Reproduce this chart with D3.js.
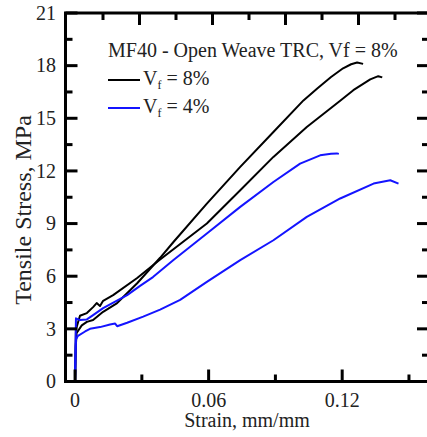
<!DOCTYPE html>
<html>
<head>
<meta charset="utf-8">
<script src="https://cdn.jsdelivr.net/npm/d3@7"></script>
<style>
  html, body { margin: 0; padding: 0; background: #fff; }
  svg { display: block; }
</style>
</head>
<body>
<svg id="chart" width="427" height="437" font-family="'Liberation Serif', 'Times New Roman', Times, serif"></svg>
<script>
// Tensile stress–strain curves, [strain (mm/mm), stress (MPa)]
const vf8a = [
  [0, 0], [0.0003, 2.0], [0.0007, 2.76], [0.003, 3.2], [0.0053, 3.4], [0.0081, 3.5],
  [0.0126, 3.97], [0.0189, 4.47], [0.0279, 5.6], [0.0382, 7.05], [0.0442, 7.95],
  [0.0592, 10.14], [0.0742, 12.23], [0.0891, 14.22], [0.1026, 16.02], [0.1088, 16.7],
  [0.1150, 17.35], [0.1204, 17.85], [0.1240, 18.08], [0.1267, 18.18], [0.1294, 18.1]
];
const vf8b = [
  [0, 0], [0.0004, 3.0], [0.0007, 3.1], [0.0022, 3.75], [0.0053, 3.9], [0.0081, 4.24],
  [0.0097, 4.47], [0.0112, 4.3], [0.0126, 4.6], [0.0171, 4.92], [0.0279, 5.9],
  [0.0382, 6.95], [0.0592, 9.0], [0.0742, 10.9], [0.0891, 12.8], [0.1041, 14.5],
  [0.1191, 16.0], [0.1250, 16.6], [0.1326, 17.22], [0.1362, 17.4], [0.1380, 17.33]
];
const vf4a = [
  [0, 0], [0.0002, 2.0], [0.0004, 3.6], [0.0022, 3.5], [0.0053, 3.54], [0.0081, 3.78],
  [0.0126, 4.18], [0.0234, 4.92], [0.0292, 5.45], [0.0350, 5.95], [0.0442, 6.92],
  [0.0592, 8.43], [0.0742, 9.95], [0.0891, 11.37], [0.1011, 12.42], [0.1101, 12.89],
  [0.1150, 12.98], [0.1176, 13.0], [0.1185, 12.97]
];
const vf4b = [
  [0, 0], [0.0002, 1.4], [0.0004, 2.4], [0.0013, 2.6], [0.0045, 2.85], [0.0067, 3.0],
  [0.0112, 3.1], [0.0157, 3.25], [0.0180, 3.3], [0.0189, 3.15], [0.0234, 3.35],
  [0.0306, 3.7], [0.0382, 4.1], [0.0472, 4.65], [0.0592, 5.68], [0.0742, 6.92],
  [0.0891, 8.05], [0.1041, 9.38], [0.1191, 10.43], [0.1341, 11.28], [0.1416, 11.47],
  [0.1453, 11.28]
];

const xMajor = [0, 0.06, 0.12];
const xMinor = [0.03, 0.09, 0.15];
const xLabels = ["0", "0.06", "0.12"];
const yMajor = [0, 3, 6, 9, 12, 15, 18, 21];
const yMinor = [1.5, 4.5, 7.5, 10.5, 13.5, 16.5, 19.5];
const topMajor = [2, 4, 6, 8];
const topMinor = [1, 3, 5, 7, 9];

const titleText = "MF40 - Open Weave TRC, Vf = 8%";
const legendItems = [
  { sub: "f", rest: " = 8%", color: "#000000" },
  { sub: "f", rest: " = 4%", color: "#1414ff" }
];

const FONT = "'Liberation Serif', 'Times New Roman', Times, serif";
const TXT = "#222";
const TICK = "#000";
const svg = d3.select("#chart");
const L = 65.5, R = 429, T = 13, B = 381.5;

const x = d3.scaleLinear().domain([-0.0043, 0.159]).range([L, R]);
const y = d3.scaleLinear().domain([0, 21]).range([B, T]);
const topScale = d3.scaleLinear().domain([0, 10]).range([66.5, 431.5]);

const line = d3.line().x(d => x(d[0])).y(d => y(d[1]));

const curves = svg.append("g");
[[vf8a, "#000000"], [vf8b, "#000000"], [vf4b, "#1414ff"], [vf4a, "#1414ff"]].forEach(([d, c]) => {
  curves.append("path").datum(d).attr("d", line).attr("stroke", c)
    .attr("fill", "none").attr("stroke-width", 2).attr("stroke-linejoin", "round");
});

// plot frame
svg.append("path")
  .attr("d", `M${L},${T}H${R}V${B}H${L}Z`)
  .attr("fill", "none").attr("stroke", "#000").attr("stroke-width", 3);

// inward tick marks, drawn as small filled bars (W = thickness)
const W = 3;
const tickG = svg.append("g").attr("fill", TICK);
function vBars(scale, vals, y0, len) {   // vertical ticks on top/bottom edges
  tickG.selectAll(null).data(vals).enter().append("rect")
    .attr("x", d => scale(d) - W / 2).attr("width", W)
    .attr("y", len < 0 ? y0 + len : y0).attr("height", Math.abs(len));
}
function hBars(scale, vals, x0, len) {   // horizontal ticks on left/right edges
  tickG.selectAll(null).data(vals).enter().append("rect")
    .attr("y", d => scale(d) - W / 2).attr("height", W)
    .attr("x", len < 0 ? x0 + len : x0).attr("width", Math.abs(len));
}
vBars(x, xMajor, B, -12);
vBars(x, xMinor, B, -7);
vBars(topScale, topMajor, T, 12);
vBars(topScale, topMinor, T, 7);
hBars(y, yMajor, L, 12);
hBars(y, yMinor, L, 7);
hBars(y, yMajor, R, -12);
hBars(y, yMinor, R, -7);

// tick labels
svg.append("g").selectAll("text").data(xMajor).join("text")
  .attr("x", d => x(d)).attr("y", 407).attr("text-anchor", "middle")
  .attr("font-family", FONT).attr("font-size", 20).attr("fill", TXT)
  .text((d, i) => xLabels[i]);
svg.append("g").selectAll("text").data(yMajor).join("text")
  .attr("x", 56).attr("y", d => y(d)).attr("dy", "0.34em").attr("text-anchor", "end")
  .attr("font-family", FONT).attr("font-size", 20).attr("fill", TXT)
  .text(d => d);

// axis titles
svg.append("text").attr("x", 247).attr("y", 427).attr("text-anchor", "middle")
  .attr("font-family", FONT).attr("font-size", 20).attr("fill", TXT).text("Strain, mm/mm");
svg.append("text").attr("transform", "translate(31,210) rotate(-90)").attr("text-anchor", "middle")
  .attr("font-family", FONT).attr("font-size", 24).attr("fill", TXT).text("Tensile Stress, MPa");

// legend
svg.append("text").attr("x", 108).attr("y", 57).attr("font-size", 20)
  .attr("font-family", FONT).attr("fill", TXT).text(titleText);
legendItems.forEach((it, i) => {
  const ly = 80 + i * 28;
  svg.append("line").attr("x1", 108).attr("x2", 140).attr("y1", ly).attr("y2", ly)
    .attr("stroke", it.color).attr("stroke-width", 2);
  const t = svg.append("text").attr("x", 143).attr("y", ly + 5).attr("font-size", 20)
    .attr("font-family", FONT).attr("fill", TXT);
  t.append("tspan").text("V");
  t.append("tspan").attr("font-size", 12).attr("dy", 4).text(it.sub);
  t.append("tspan").attr("dy", -4).text(it.rest);
});
</script>
</body>
</html>
